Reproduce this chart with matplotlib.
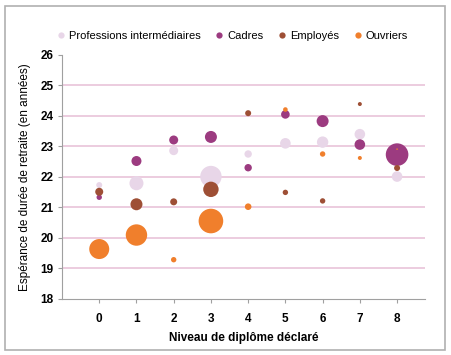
import matplotlib
matplotlib.use('Agg')
import matplotlib.pyplot as plt
from matplotlib.patches import Rectangle

plt.rcParams['font.family'] = ['Liberation Sans', 'DejaVu Sans']

## niveau de diplome (x) et esperance de duree de retraite (y), taille = rayon relatif de la bulle
niveaux = [0, 1, 2, 3, 4, 5, 6, 7, 8]

pi_y = [21.73, 21.79, 22.86, 22.01, 22.75, 23.10, 23.14, 23.40, 22.01]
pi_r = [3.0, 7.0, 4.5, 10.7, 3.7, 5.3, 5.7, 5.3, 5.3]

cadres_y = [21.33, 22.52, 23.21, 23.31, 22.30, 24.05, 23.83, 23.06, 22.73]
cadres_r = [2.7, 5.0, 4.5, 6.0, 3.7, 4.3, 6.0, 5.3, 11.3]

employes_y = [21.51, 21.10, 21.18, 21.59, 24.09, 21.49, 21.21, 24.39, 22.29]
employes_r = [4.0, 6.0, 3.5, 7.7, 3.0, 2.7, 2.7, 2.0, 3.0]

ouvriers_y = [19.63, 20.09, 19.28, 20.55, 21.02, 24.21, 22.75, 22.62, 22.91]
ouvriers_r = [10.0, 10.7, 2.7, 12.3, 3.3, 2.3, 2.7, 2.0, 0.8]

series = [
    ('Professions intermédiaires', pi_y, pi_r, '#e8d6e8'),
    ('Cadres', cadres_y, cadres_r, '#9c3b80'),
    ('Employés', employes_y, employes_r, '#9e4f35'),
    ('Ouvriers', ouvriers_y, ouvriers_r, '#f07f2c'),
]

fig = plt.figure(figsize=(4.52, 3.55), dpi=100)
fig.patches.append(Rectangle((5/452, 1-350/355), 440/452, 344/355, transform=fig.transFigure,
                             fill=False, edgecolor='#b0b0b0', linewidth=1.2))
ax = fig.add_axes([62/452, 1-298.7/355, 363/452, 243.7/355])

for yy in range(19, 26):
    ax.axhline(yy, color='#ebc8dc', linewidth=1.3, zorder=0)

for label, ys, rs, col in series:
    s = [(2*r*0.72)**2 for r in rs]
    ax.scatter(niveaux, ys, s=s, color=col, edgecolors='none', zorder=2, label=label)

ax.set_xlim(-1, 8.75)
ax.set_ylim(18, 26)
ax.set_xticks(niveaux)
ax.set_yticks(range(18, 27))
for side in ['top', 'right']:
    ax.spines[side].set_visible(False)
for side in ['left', 'bottom']:
    ax.spines[side].set_color('#a0a0a0')
ax.tick_params(axis='both', color='#a0a0a0', length=3, labelsize=8.5, pad=3)
ax.tick_params(axis='x', pad=7)
for t in ax.get_xticklabels() + ax.get_yticklabels():
    t.set_fontweight('bold')

ax.set_xlabel('Niveau de diplôme déclaré', fontsize=8.5, fontweight='bold', labelpad=5)
ax.set_ylabel('Espérance de durée de retraite (en années)', fontsize=8.5, labelpad=7)

handles = [plt.Line2D([], [], marker='o', linestyle='none', markersize=4.5,
                      markerfacecolor=c, markeredgecolor='none') for _, _, _, c in series]
fig.legend(handles, [s[0] for s in series], loc='center', bbox_to_anchor=(232/452, 1-36/355),
           ncol=4, frameon=False, fontsize=8, handlelength=0.8, handletextpad=0.3,
           columnspacing=1.3)

plt.savefig('out.png', dpi=100)
